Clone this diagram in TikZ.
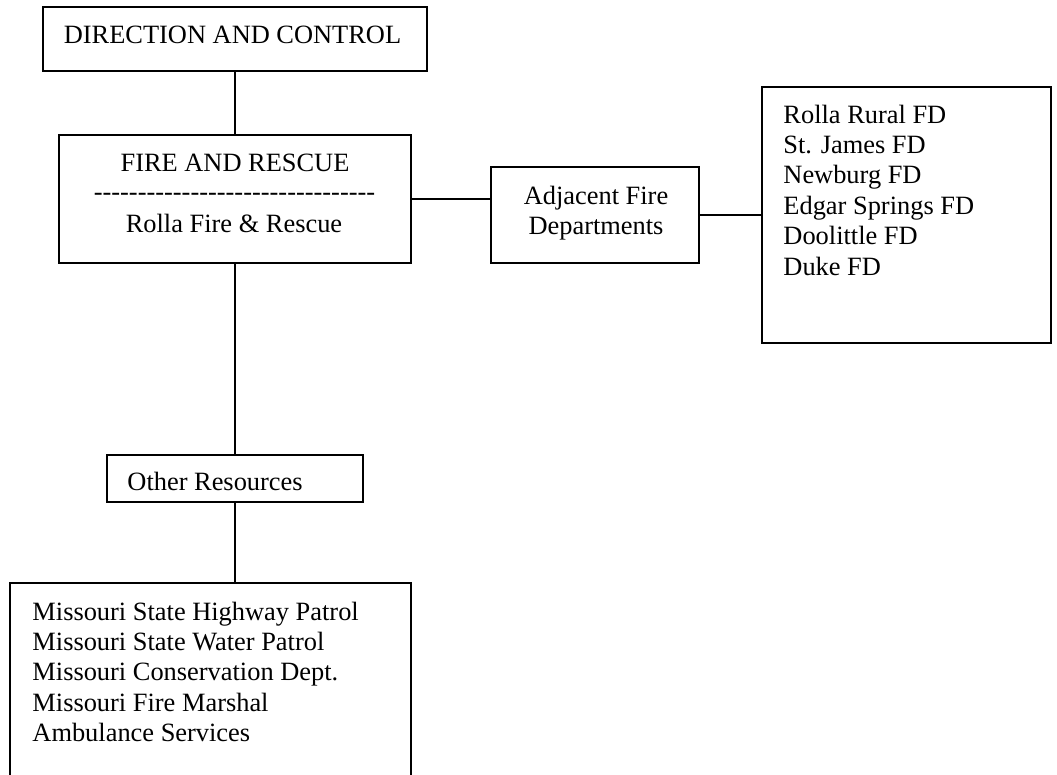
\documentclass[tikz,border=0pt]{standalone}
\usepackage{fontspec}
\setmainfont{Liberation Serif}
\usetikzlibrary{fit}

\tikzset{
  box/.style={draw, line width=0.8pt, inner sep=0pt, outer sep=0pt},
  txt/.style={anchor=base, inner sep=0pt, font=\fontsize{12pt}{13.8pt}\selectfont},
  listline/.style={txt, anchor=base west},
  link/.style={line width=0.8pt},
}
\newcommand{\hyphenrow}{\foreach \k in {1,...,32}{\hbox{-}}}

\begin{document}
\begin{tikzpicture}[x=0.4545pt, y=-0.4545pt]
    \useasboundingbox (0,0) rectangle (1057,774);

    % boxes
    \node[box, fit={(43,7) (427,71)}] (control) {};
    \node[box, fit={(59,135) (411,263)}] (fire) {};
    \node[box, fit={(491,167) (699,263)}] (adjacent) {};
    \node[box, fit={(762,87) (1051,343)}] (fdlist) {};
    \node[box, fit={(107,455) (363,502)}] (other) {};
    \node[box, fit={(10,583) (411,790)}] (agencies) {};

    % connectors
    \draw[link] (fire.north) -- (fire.north |- control.south);
    \draw[link] (fire.east) -- (fire.east -| adjacent.west);
    \draw[link] (adjacent.east) -- (adjacent.east -| fdlist.west);
    \draw[link] (fire.south) -- (other.north);
    \draw[link] (other.south) -- (other.south |- agencies.north);

    % box texts
    \node[txt] (controltxt) at (232.5,43.3) {DIRECTION AND CONTROL};
    \node[txt] (firetxt) at (235,171.7) {FIRE AND RESCUE};
    \node[txt] (firedash) at (234.5,200) {\hyphenrow};
    \node[txt] (rollatxt) at (234,232) {Rolla Fire \& Rescue};

    \node[txt] (adjtxta) at (596,204) {Adjacent Fire};
    \node[txt] (adjtxtb) at (596,234.5) {Departments};

    \node[listline] (othertxt) at (127,490.7) {Other Resources};

    % adjacent departments
    \node[listline] (fda) at (783,123) {Rolla Rural FD};
    \node[listline] (fdb) at (783,153.4) {St. James FD};
    \node[listline] (fdc) at (783,183.8) {Newburg FD};
    \node[listline] (fdd) at (783,214.2) {Edgar Springs FD};
    \node[listline] (fde) at (783,244.6) {Doolittle FD};
    \node[listline] (fdf) at (783,275) {Duke FD};

    % other resources
    \node[listline] (orga) at (32,620) {Missouri State Highway Patrol};
    \node[listline] (orgb) at (32,650.4) {Missouri State Water Patrol};
    \node[listline] (orgc) at (32,680.8) {Missouri Conservation Dept.};
    \node[listline] (orgd) at (32,711.2) {Missouri Fire Marshal};
    \node[listline] (orge) at (32,741.6) {Ambulance Services};

\end{tikzpicture}
\end{document}
